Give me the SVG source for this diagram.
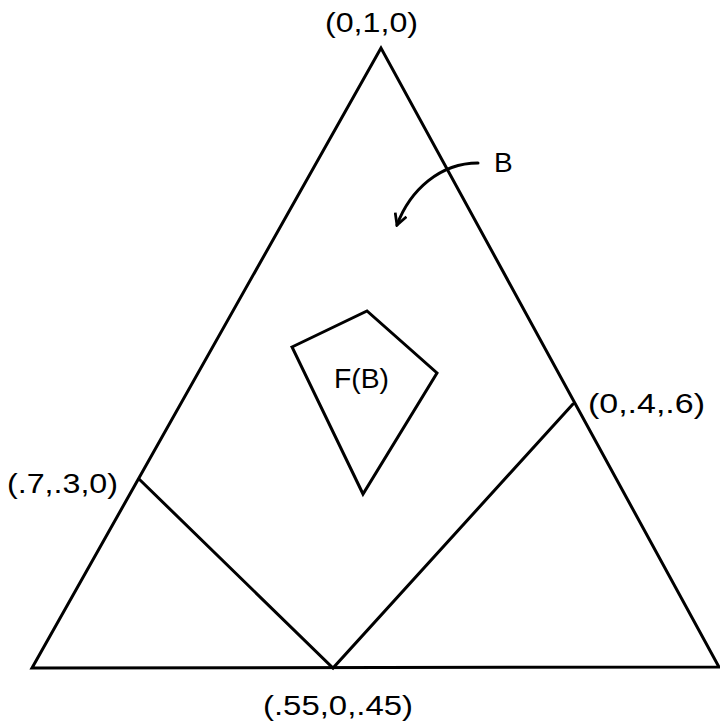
<svg xmlns="http://www.w3.org/2000/svg" width="720" height="722" viewBox="0 0 720 722">
<style>
.ln{fill:none;stroke:#000;stroke-width:3;stroke-linejoin:miter;stroke-linecap:round}
.lbl{font-family:"Liberation Sans","DejaVu Sans",sans-serif;fill:#000;font-size:28px}
</style>
<defs>
<marker id="ah" viewBox="0 0 14 14" refX="12" refY="7" markerWidth="14" markerHeight="14" markerUnits="userSpaceOnUse" orient="auto">
<path d="M1,1 L12,7 L1,13" fill="none" stroke="#000" stroke-width="2.8"/>
</marker>
</defs>
<rect width="720" height="722" fill="#fff"/>
<g id="simplex">
<polygon class="ln" points="381,48 32,668 719,667"/>
</g>
<g id="region-B">
<polyline class="ln" points="139,479 333,668 573,404"/>
</g>
<g id="FB">
<polygon class="ln" points="292,347 367,311 437,373 363,494"/>
<text class="lbl" x="334" y="388" font-size="23" textLength="55" lengthAdjust="spacingAndGlyphs">F(B)</text>
</g>
<g id="connectors">
<path class="ln" d="M478,163 C440,163 410,190 397,225" marker-end="url(#ah)"/>
</g>
<g id="labels">
<text class="lbl" x="494" y="172" font-size="29">B</text>
<text class="lbl" x="325" y="32" textLength="93" lengthAdjust="spacingAndGlyphs">(0,1,0)</text>
<text class="lbl" x="588" y="413" textLength="117" lengthAdjust="spacingAndGlyphs">(0,.4,.6)</text>
<text class="lbl" x="7" y="493" textLength="111" lengthAdjust="spacingAndGlyphs">(.7,.3,0)</text>
<text class="lbl" x="263" y="715" textLength="150" lengthAdjust="spacingAndGlyphs">(.55,0,.45)</text>
</g>
</svg>
